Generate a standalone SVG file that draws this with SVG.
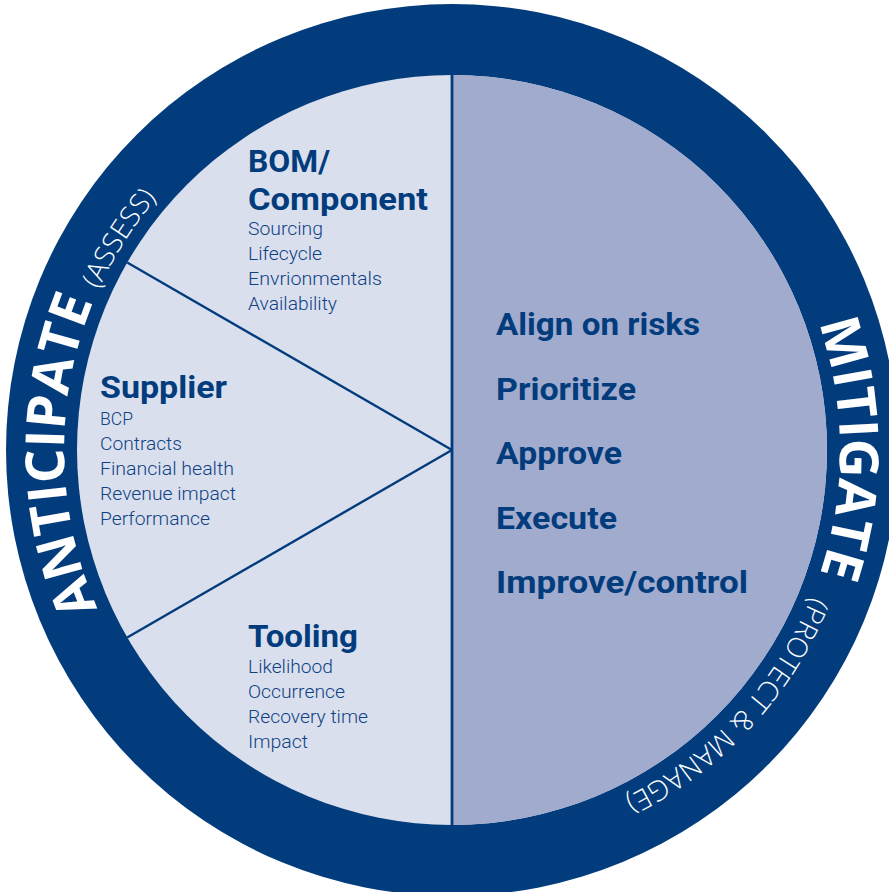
<svg xmlns="http://www.w3.org/2000/svg" xmlns:xlink="http://www.w3.org/1999/xlink" width="889" height="892" viewBox="0 0 889 892">
  <defs>
    <!-- clockwise circle through the middle of the outer band, starting at the bottom -->
    <path id="bandPath" d="M452,838 A388,388 0 1 1 452,62 A388,388 0 1 1 452,838"/>
    <style>
      .head { font-family: Roboto, "Liberation Sans", sans-serif; font-weight: 700; font-size: 31px; fill: #023c7d; }
      .item { font-family: Roboto, "Liberation Sans", sans-serif; font-weight: 300; font-size: 19px; fill: #0f4283; }
      .step { font-family: Roboto, "Liberation Sans", sans-serif; font-weight: 700; font-size: 32px; fill: #023c7d; }
      .band-bold { font-family: "Open Sans", "Liberation Sans", sans-serif; font-weight: 700; font-size: 54px; fill: #ffffff; }
      .band-light { font-family: "Open Sans", "Liberation Sans", sans-serif; font-weight: 300; font-size: 28px; fill: #ffffff; }
      .rule { stroke: #023c7d; fill: none; }
    </style>
  </defs>

  <!-- outer band and inner disc -->
  <g id="band">
    <circle cx="452" cy="450" r="446" fill="#023c7d"/>
    <circle cx="452" cy="450" r="375" fill="#dadfee"/>
    <path d="M452,75 A375,375 0 0 1 452,825 Z" fill="#a1abcd"/>
  </g>

  <!-- dividing lines -->
  <g id="connectors">
    <line class="rule" x1="452" y1="75" x2="452" y2="825" stroke-width="2.8"/>
    <line class="rule" x1="452" y1="450" x2="127.2" y2="262.5" stroke-width="2.4"/>
    <line class="rule" x1="452" y1="450" x2="127.2" y2="637.5" stroke-width="2.4"/>
  </g>

  <!-- labels running round the band -->
  <g id="band-labels">
    <text class="band-bold" text-anchor="middle"><textPath xlink:href="#bandPath" href="#bandPath" startOffset="604">ANTICIPATE</textPath></text>
    <text class="band-light" text-anchor="middle"><textPath xlink:href="#bandPath" href="#bandPath" startOffset="829">(ASSESS)</textPath></text>
    <text class="band-bold" text-anchor="middle"><textPath xlink:href="#bandPath" href="#bandPath" startOffset="1826">MITIGATE</textPath></text>
    <text class="band-light" text-anchor="middle"><textPath xlink:href="#bandPath" href="#bandPath" startOffset="2118">(PROTECT &amp; MANAGE)</textPath></text>
  </g>

  <g id="bom-component">
    <text class="head" x="248" y="172" textLength="82" lengthAdjust="spacingAndGlyphs">BOM/</text>
    <text class="head" x="248" y="210" textLength="180" lengthAdjust="spacingAndGlyphs">Component</text>
    <text class="item" x="248" y="235" textLength="75" lengthAdjust="spacingAndGlyphs">Sourcing</text>
    <text class="item" x="248" y="260" textLength="74" lengthAdjust="spacingAndGlyphs">Lifecycle</text>
    <text class="item" x="248" y="285" textLength="134" lengthAdjust="spacingAndGlyphs">Envrionmentals</text>
    <text class="item" x="248" y="310" textLength="89" lengthAdjust="spacingAndGlyphs">Availability</text>
  </g>

  <g id="supplier">
    <text class="head" x="100" y="398" textLength="127" lengthAdjust="spacingAndGlyphs">Supplier</text>
    <text class="item" x="100" y="425" textLength="33" lengthAdjust="spacingAndGlyphs">BCP</text>
    <text class="item" x="100" y="450" textLength="82" lengthAdjust="spacingAndGlyphs">Contracts</text>
    <text class="item" x="100" y="475" textLength="134" lengthAdjust="spacingAndGlyphs">Financial health</text>
    <text class="item" x="100" y="500" textLength="136" lengthAdjust="spacingAndGlyphs">Revenue impact</text>
    <text class="item" x="100" y="525" textLength="110" lengthAdjust="spacingAndGlyphs">Performance</text>
  </g>

  <g id="tooling">
    <text class="head" x="248" y="647" textLength="110" lengthAdjust="spacingAndGlyphs">Tooling</text>
    <text class="item" x="248" y="673" textLength="85" lengthAdjust="spacingAndGlyphs">Likelihood</text>
    <text class="item" x="248" y="698" textLength="97" lengthAdjust="spacingAndGlyphs">Occurrence</text>
    <text class="item" x="248" y="723" textLength="120" lengthAdjust="spacingAndGlyphs">Recovery time</text>
    <text class="item" x="248" y="748" textLength="60" lengthAdjust="spacingAndGlyphs">Impact</text>
  </g>

  <g id="mitigate-steps">
    <text class="step" x="496" y="335" textLength="204" lengthAdjust="spacingAndGlyphs">Align on risks</text>
    <text class="step" x="496" y="400" textLength="140" lengthAdjust="spacingAndGlyphs">Prioritize</text>
    <text class="step" x="496" y="464" textLength="126" lengthAdjust="spacingAndGlyphs">Approve</text>
    <text class="step" x="496" y="529" textLength="121" lengthAdjust="spacingAndGlyphs">Execute</text>
    <text class="step" x="496" y="593" textLength="252" lengthAdjust="spacingAndGlyphs">Improve/control</text>
  </g>
</svg>
